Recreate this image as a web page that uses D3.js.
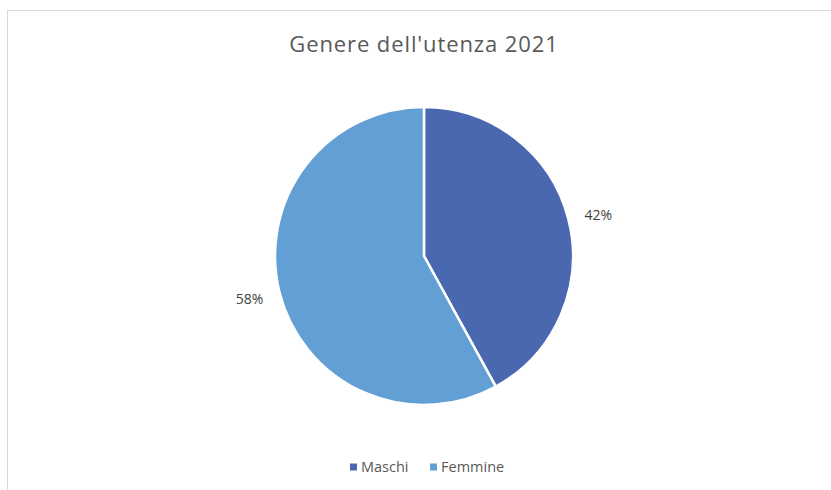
<!DOCTYPE html>
<html>
<head>
<meta charset="utf-8">
<script src="https://cdn.jsdelivr.net/npm/d3@7"></script>
<style>
  body { margin: 0; background: #fff; }
  svg { display: block; font-family: "Open Sans", "Noto Sans", sans-serif; }
</style>
</head>
<body>
<div class="wrapper"></div>
<script>
var categories = ["Maschi", "Femmine"];
var values = [42, 58];
var colors = ["#4a68b0", "#619fd4"];
var title = "Genere dell'utenza 2021";

var width = 831,
  height = 490,
  cx = 424,
  cy = 256,
  radius = 149;

var svg = d3.select(".wrapper")
  .append("svg")
    .attr("width", width)
    .attr("height", height);

// chart frame
svg.append("rect")
  .attr("x", 7.5)
  .attr("y", 10.5)
  .attr("width", 840)
  .attr("height", 500)
  .attr("fill", "#fff")
  .attr("stroke", "#d9d9d9")
  .attr("stroke-width", 1);

svg.append("text")
  .attr("x", cx)
  .attr("y", 52)
  .attr("text-anchor", "middle")
  .attr("font-size", 22)
  .attr("letter-spacing", 0.9)
  .attr("fill", "#595959")
  .text(title);

var z = d3.scaleOrdinal().domain(categories).range(colors);

var pie = d3.pie().sort(null).value(function(d) { return d.value; });
var data = categories.map(function(c, i) { return {key: c, value: values[i]}; });
var arcs = pie(data);

var arc = d3.arc().innerRadius(0).outerRadius(radius);
var labelArc = d3.arc().innerRadius(180).outerRadius(180);

var g = svg.append("g").attr("transform", "translate(" + cx + "," + cy + ")");

g.selectAll("path")
  .data(arcs)
  .enter().append("path")
    .attr("d", arc)
    .attr("fill", function(d) { return z(d.data.key); })
    .attr("stroke", "#fff")
    .attr("stroke-width", 2.5);

var total = d3.sum(values);
g.selectAll("text.label")
  .data(arcs)
  .enter().append("text")
    .attr("class", "label")
    .attr("transform", function(d) { return "translate(" + labelArc.centroid(d) + ")"; })
    .attr("dy", function(d, i) { return i === 0 ? 9 : 3; })
    .attr("text-anchor", "middle")
    .attr("font-size", 14)
    .attr("fill", "#404040")
    .text(function(d) { return Math.round(d.data.value / total * 100) + "%"; });

// legend
var legendX = [350, 430];
var legend = svg.append("g")
  .selectAll("g")
  .data(categories)
  .enter().append("g")
    .attr("transform", function(d, i) { return "translate(" + legendX[i] + ",467)"; });

legend.append("rect")
  .attr("x", 0)
  .attr("y", -3.5)
  .attr("width", 7)
  .attr("height", 7)
  .attr("fill", z);

legend.append("text")
  .attr("x", 11)
  .attr("dy", "0.35em")
  .attr("font-size", 14.5)
  .attr("fill", "#595959")
  .text(function(d) { return d; });
</script>
</body>
</html>
